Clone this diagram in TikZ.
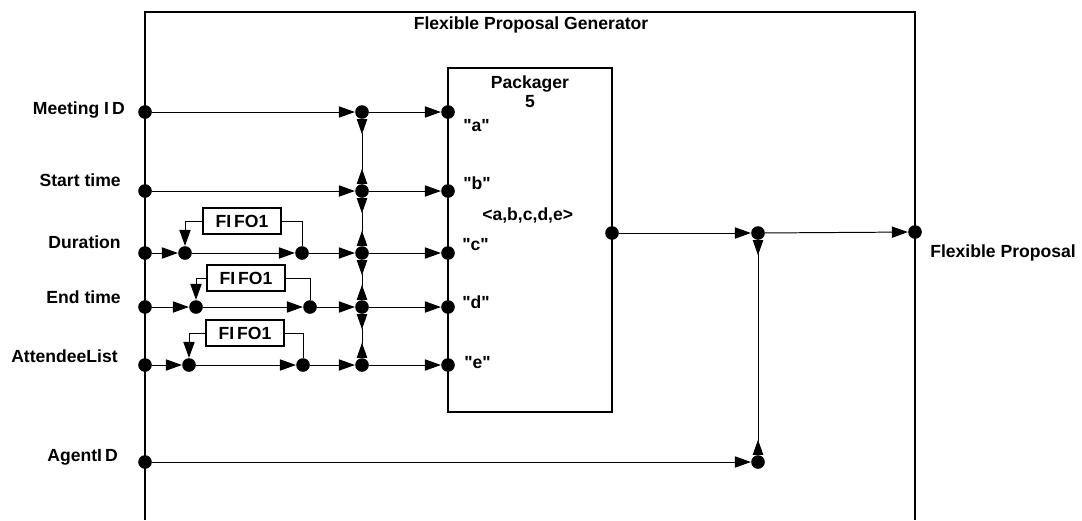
\documentclass[tikz,border=0pt]{standalone}
\usepackage{fontspec}
\setmainfont{Liberation Sans}[Ligatures=TeXOff]
\usetikzlibrary{arrows.meta}
\tikzset{
  lbl/.style={font=\fontsize{12.5}{13.5}\selectfont\bfseries, inner sep=0pt},
  portdot/.style={circle, fill=black, inner sep=0pt, minimum size=0.34cm},
  wire/.style={line width=0.7pt, -{Triangle[length=0.4cm,width=0.28cm]}},
  relink/.style={line width=0.7pt, {Triangle[length=0.38cm,width=0.26cm,reversed]}-{Triangle[length=0.38cm,width=0.26cm,reversed]}},
  fifobox/.style={draw, line width=1.4pt, lbl, minimum width=1.93cm, minimum height=0.65cm}
}
\begin{document}
\begin{tikzpicture}[x=0.025cm, y=-0.025cm]
\useasboundingbox (0,0) rectangle (1082,520);
\draw[line width=1.4pt] (145,520) -- (145,12) -- (915,12) -- (915,520);
\node[lbl] (title) at (531,25) {Flexible Proposal Generator};
\node[draw, line width=1.4pt, minimum width=4.1cm, minimum height=8.6cm] (pkg) at (530,240) {};
\node[lbl, align=center] (pkgname) at (530,92) {Packager\\5};

% inputs
\node[lbl, anchor=east] (lmeet) at (125,110) {Meeting I\,D};
\node[lbl, anchor=east] (lstart) at (121,180) {Start time};
\node[lbl, anchor=east] (ldur) at (121,242) {Duration};
\node[lbl, anchor=east] (lend) at (121,297) {End time};
\node[lbl, anchor=east] (latt) at (118,356) {AttendeeList};
\node[lbl, anchor=east] (lagent) at (118,457) {AgentI\,D};

\node[portdot] (i1) at (145,112) {};
\node[portdot] (i2) at (145,191) {};
\node[portdot] (i3) at (145,253) {};
\node[portdot] (i4) at (145,307) {};
\node[portdot] (i5) at (145,365) {};
\node[portdot] (i6) at (145,462) {};

\node[portdot] (j1) at (362,112) {};
\node[portdot] (j2) at (362,191) {};
\node[portdot] (j3) at (362,253) {};
\node[portdot] (j4) at (362,307) {};
\node[portdot] (j5) at (362,365) {};

\node[portdot] (p1) at (448,112) {};
\node[portdot] (p2) at (448,191) {};
\node[portdot] (p3) at (448,253) {};
\node[portdot] (p4) at (448,307) {};
\node[portdot] (p5) at (448,365) {};

\node[lbl, anchor=west] (pa) at (463,126) {"a"};
\node[lbl, anchor=west] (pb) at (463,183) {"b"};
\node[lbl, anchor=west] (pc) at (462,245) {"c"};
\node[lbl, anchor=west] (pd) at (462,302) {"d"};
\node[lbl, anchor=west] (pe) at (464,363) {"e"};
\node[lbl, anchor=west] (ptuple) at (482,215) {<a,b,c,d,e>};

% fifo loops
\node[portdot] (d1) at (185,253) {};
\node[portdot] (d2) at (302,253) {};
\node[portdot] (e1) at (196,307) {};
\node[portdot] (e2) at (310,307) {};
\node[portdot] (a1) at (189,365) {};
\node[portdot] (a2) at (303,365) {};
\node[fifobox] (fdur) at (242,221) {FI\,FO1};
\node[fifobox] (fend) at (246,278) {FI\,FO1};
\node[fifobox] (fatt) at (245,333) {FI\,FO1};

\draw[wire] (i1) -- (j1);
\draw[wire] (i2) -- (j2);
\draw[wire] (i3) -- (d1);
\draw[wire] (d1) -- (d2);
\draw[wire] (d2) -- (j3);
\draw[wire] (i4) -- (e1);
\draw[wire] (e1) -- (e2);
\draw[wire] (e2) -- (j4);
\draw[wire] (i5) -- (a1);
\draw[wire] (a1) -- (a2);
\draw[wire] (a2) -- (j5);
\foreach \k in {1,...,5} \draw[wire] (j\k) -- (p\k);

\draw[wire] (fdur.west) -| (d1);
\draw[line width=0.7pt] (fdur.east) -| (d2);
\draw[wire] (fend.west) -| (e1);
\draw[line width=0.7pt] (fend.east) -| (e2);
\draw[wire] (fatt.west) -| (a1);
\draw[line width=0.7pt] (fatt.east) -| (a2);

\draw[relink] (j1) -- (j2);
\draw[relink] (j2) -- (j3);
\draw[relink] (j3) -- (j4);
\draw[relink] (j4) -- (j5);

% output
\node[portdot] (po) at (612,233) {};
\node[portdot] (jo) at (758,233) {};
\node[portdot] (ja) at (758,462) {};
\node[portdot] (out) at (915,232) {};
\node[lbl, anchor=west] (lout) at (930,253) {Flexible Proposal};
\draw[wire] (po) -- (jo);
\draw[wire] (jo) -- (out);
\draw[wire] (i6) -- (ja);
\draw[relink] (jo) -- (ja);
\end{tikzpicture}
\end{document}
